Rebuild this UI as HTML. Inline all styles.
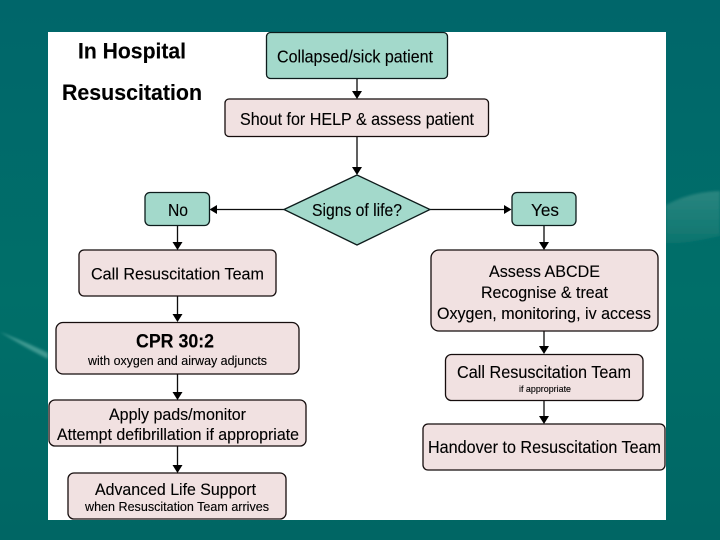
<!DOCTYPE html>
<html><head><meta charset="utf-8"><style>
html,body{margin:0;padding:0;width:720px;height:540px;overflow:hidden;background:#006a68}
svg{display:block}
text{font-family:"Liberation Sans",sans-serif;fill:#000;stroke:#000;stroke-width:.12;text-anchor:start}
.l{fill:none;stroke:#111;stroke-width:1.3}
.g{fill:#a3d9cb;stroke:#0d1a1a;stroke-width:1.3}
.p{fill:#f1e1e1;stroke:#140f0f;stroke-width:1.3}
.a{fill:#000}
</style></head><body>
<svg width="720" height="540" viewBox="0 0 720 540" xmlns="http://www.w3.org/2000/svg">
<defs>
<linearGradient id="bg" x1="0" y1="0" x2="0" y2="1"><stop offset="0" stop-color="#00666a"/><stop offset=".55" stop-color="#006f69"/><stop offset="1" stop-color="#006664"/></linearGradient>
<linearGradient id="sw" x1="0" y1="0" x2="0" y2="1"><stop offset="0" stop-color="#2a857f"/><stop offset=".6" stop-color="#187c76"/><stop offset="1" stop-color="#0c746d"/></linearGradient>
<filter id="b" x="-2%" y="-2%" width="104%" height="104%"><feGaussianBlur stdDeviation="0.2"/></filter>
<filter id="s" x="-20%" y="-20%" width="140%" height="140%"><feGaussianBlur stdDeviation="1.2"/></filter>
</defs>
<rect width="720" height="540" fill="url(#bg)"/>
<path d="M666 205 C685 195 700 192 720 191 L720 236 C700 240 685 244 666 243 Z" fill="url(#sw)" filter="url(#s)"/>
<path d="M0 332 C15 341 32 351 48 359 L48 353 C32 345 15 338 0 332 Z" fill="#3f9a92" filter="url(#s)"/>
<rect x="48" y="32" width="618" height="488" fill="#fff"/>
<g filter="url(#b)">
<g class="l">
<path d="M357 78V95"/><path d="M357 136V170"/><path d="M284 209.500H214"/><path d="M430 209.500H507"/>
<path d="M177.500 225V245"/><path d="M544 225V245"/><path d="M177.500 296V317"/><path d="M177.500 374V395"/><path d="M177.500 446V468"/>
<path d="M544 331V349"/><path d="M544 400V419"/>
</g>
<g class="a">
<path d="M352 91h10L357 99Z"/><path d="M352 167h10L357 175Z"/>
<path d="M217 205v9l-7.500-4.500Z"/><path d="M504 205v9l7.500-4.500Z"/>
<path d="M172.500 242h10l-5 8Z"/><path d="M539 242h10l-5 8Z"/>
<path d="M172.500 314h10l-5 8Z"/><path d="M172.500 392h10l-5 8Z"/><path d="M172.500 465h10l-5 8Z"/>
<path d="M539 346h10l-5 8Z"/><path d="M539 416h10l-5 8Z"/>
</g>
<rect class="g" x="266.500" y="32.500" width="181" height="46" rx="4"/>
<rect class="p" x="225" y="99" width="263.500" height="37.500" rx="4"/>
<path class="g" d="M284 209.500L357 175L430 209.500L357 245Z"/>
<rect class="g" x="145" y="192.500" width="64.500" height="33" rx="5"/>
<rect class="g" x="512" y="192.500" width="64" height="33" rx="5"/>
<rect class="p" x="79" y="250" width="197" height="46" rx="5"/>
<rect class="p" x="56" y="322.500" width="243" height="51.500" rx="7"/>
<rect class="p" x="49" y="400" width="257" height="46" rx="6"/>
<rect class="p" x="68" y="473" width="218" height="46" rx="6"/>
<rect class="p" x="431" y="250" width="227" height="81" rx="8"/>
<rect class="p" x="445.500" y="354.500" width="197.500" height="46" rx="6"/>
<rect class="p" x="423" y="424" width="242" height="46" rx="5"/>
<text x="78" y="58.500" font-size="22" font-weight="700" textLength="108" lengthAdjust="spacingAndGlyphs">In Hospital</text>
<text x="62" y="100" font-size="22" font-weight="700" textLength="140" lengthAdjust="spacingAndGlyphs">Resuscitation</text>
<text x="277" y="62.500" font-size="17.500" textLength="156" lengthAdjust="spacingAndGlyphs">Collapsed/sick patient</text>
<text x="240" y="125" font-size="17.500" textLength="234" lengthAdjust="spacingAndGlyphs">Shout for HELP &amp; assess patient</text>
<text x="312" y="216" font-size="17.500" textLength="90" lengthAdjust="spacingAndGlyphs">Signs of life?</text>
<text x="168" y="216" font-size="17.500" textLength="20" lengthAdjust="spacingAndGlyphs">No</text>
<text x="531" y="216" font-size="17.500" textLength="28" lengthAdjust="spacingAndGlyphs">Yes</text>
<text x="91" y="279.500" font-size="17" textLength="173" lengthAdjust="spacingAndGlyphs">Call Resuscitation Team</text>
<text x="136" y="347.500" font-size="19.500" font-weight="700" textLength="78" lengthAdjust="spacingAndGlyphs">CPR 30:2</text>
<text x="88" y="365" font-size="13" textLength="179" lengthAdjust="spacingAndGlyphs">with oxygen and airway adjuncts</text>
<text x="109" y="420" font-size="17" textLength="137" lengthAdjust="spacingAndGlyphs">Apply pads/monitor</text>
<text x="57" y="440" font-size="17" textLength="242" lengthAdjust="spacingAndGlyphs">Attempt defibrillation if appropriate</text>
<text x="95" y="495" font-size="17" textLength="161" lengthAdjust="spacingAndGlyphs">Advanced Life Support</text>
<text x="85" y="511" font-size="13" textLength="184" lengthAdjust="spacingAndGlyphs">when Resuscitation Team arrives</text>
<text x="489" y="277" font-size="17" textLength="111" lengthAdjust="spacingAndGlyphs">Assess ABCDE</text>
<text x="481" y="298" font-size="17" textLength="127" lengthAdjust="spacingAndGlyphs">Recognise &amp; treat</text>
<text x="437" y="319" font-size="17" textLength="214" lengthAdjust="spacingAndGlyphs">Oxygen, monitoring, iv access</text>
<text x="457" y="378" font-size="17.500" textLength="174" lengthAdjust="spacingAndGlyphs">Call Resuscitation Team</text>
<text x="519" y="392" font-size="9.500" textLength="52" lengthAdjust="spacingAndGlyphs">if appropriate</text>
<text x="428" y="453" font-size="17.500" textLength="233" lengthAdjust="spacingAndGlyphs">Handover to Resuscitation Team</text>
</g>
</svg>
</body></html>
